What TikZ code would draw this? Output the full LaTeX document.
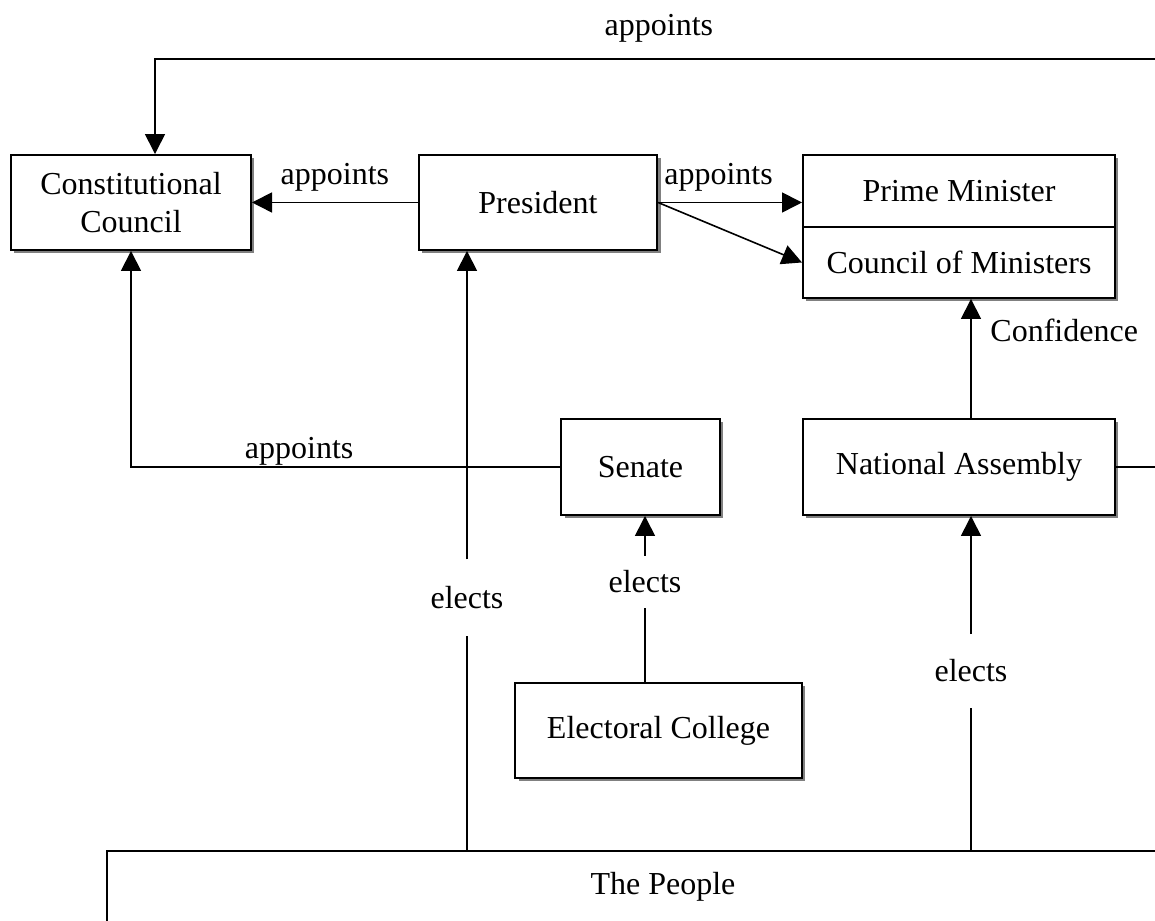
\documentclass[tikz,border=0pt]{standalone}
\usepackage{fontspec}
\setmainfont{Liberation Serif}
\usetikzlibrary{arrows.meta,shadows}
\definecolor{shade_gray}{RGB}{128,128,128}

\begin{document}
\begin{tikzpicture}[x=0.375pt,y=-0.375pt,line width=0.6pt,>={Triangle[length=7.5pt,width=7.5pt]},font=\fontsize{12}{14}\selectfont]
    \tikzstyle{org}=[draw=black, line width=0.75pt, rectangle, fill=white, text=black, align=center, drop shadow={shadow xshift=1.3pt,shadow yshift=-1.3pt,fill=shade_gray,opacity=1}]
    \tikzstyle{lbl}=[inner sep=0pt, text=black]
    \tikzstyle{gap}=[inner xsep=2pt, inner ysep=0pt, text=black]

    \useasboundingbox (0,0) rectangle (1155,921);
    \clip (0,0) rectangle (1155,921);

    \node[org, minimum width=90pt,  minimum height=35.6pt] (cc)   at (131,202.5) {Constitutional\\Council};
    \node[org, minimum width=89.3pt,minimum height=35.6pt] (pres) at (538,202.5) {President};
    \node[org, minimum width=117pt, minimum height=27pt]   (pm)   at (959,191)   {Prime Minister};
    \node[org, minimum width=117pt, minimum height=26.6pt] (com)  at (959,262.5) {Council of Ministers};
    \node[org, minimum width=59.6pt,minimum height=36pt]   (sen)  at (640.5,467) {Senate};
    \node[org, minimum width=117pt, minimum height=36pt]   (na)   at (959,467)   {National Assembly};
    \node[org, minimum width=107.6pt,minimum height=35.6pt](ec)   at (658.5,730.5) {Electoral College};
    \node[org, minimum width=417pt, minimum height=27pt]   (people) at (663,887) {The People};

    \node[gap, minimum height=28pt] (elP) at (467,597.5) {elects};
    \node[gap, minimum height=19pt] (elS) at (645,582)   {elects};
    \node[gap, minimum height=27pt] (elN) at (971,671)   {elects};

    \coordinate (topR) at (1175,59);
    \coordinate (naR)  at (1175,467);

    \draw[->] (topR) -| ([xshift=9pt]cc.north) node[lbl,pos=0.253,above=6pt] {appoints};
    \draw[->] (pres.west) -- (cc.east) node[lbl,midway,above=3.8pt] {appoints};
    \draw[->] (pres.east) -- (pres.east -| pm.west) node[lbl,pos=0.42,above=3.8pt] {appoints};
    \draw[->] (pres.east) -- (com.west);
    \draw[->] (sen.west) -| (cc.south) node[lbl,pos=0.304,above=0.5pt] {appoints};

    \draw     (people.north -| elP) -- (elP);
    \draw[->] (elP) -- (pres.south -| elP);
    \draw     (ec.north -| elS) -- (elS);
    \draw[->] (elS) -- (sen.south -| elS);
    \draw     (people.north -| elN) -- (elN);
    \draw[->] (elN) -- (na.south -| elN);
    \draw[->] (na.north -| elN) -- (com.south -| elN) node[lbl,pos=0.74,right=7pt] {Confidence};
    \draw     (na.east) -- (naR);
\end{tikzpicture}
\end{document}
